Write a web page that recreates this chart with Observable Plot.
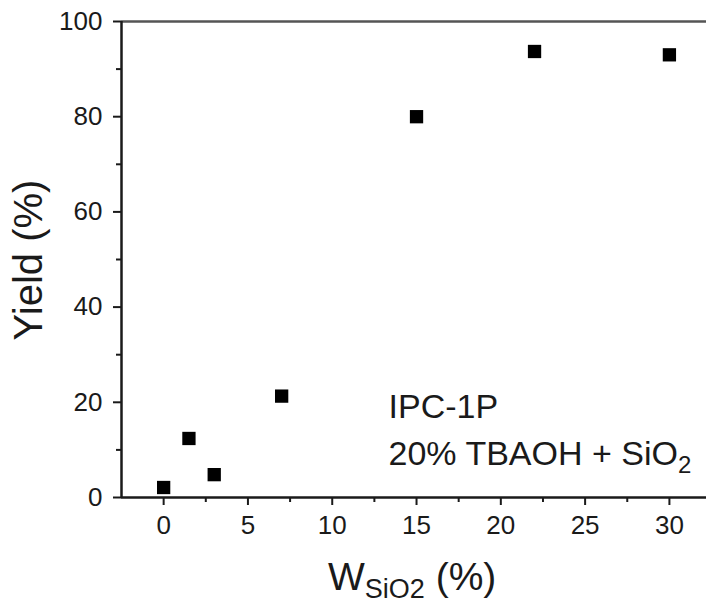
<!DOCTYPE html>
<html>
<head>
<meta charset="utf-8">
<script src="https://cdn.jsdelivr.net/npm/d3@7"></script>
<script src="https://cdn.jsdelivr.net/npm/@observablehq/plot@0.6"></script>
<style>
  html, body { margin: 0; padding: 0; background: #fff; }
  svg { display: block; }
</style>
</head>
<body>
<div id="chart"></div>
<script>
// Data
const wSiO2 = [0, 1.5, 3, 7, 15, 22, 30];
const yieldPct = [2.1, 12.4, 4.8, 21.3, 80.0, 93.7, 93.0];

const xMajorTicks = [0, 5, 10, 15, 20, 25, 30];
const xMinorTicks = [2.5, 7.5, 12.5, 17.5, 22.5, 27.5];
const yMajorTicks = [0, 20, 40, 60, 80, 100];
const yMinorTicks = [10, 30, 50, 70, 90];

const annoLines = ["IPC-1P", "20% TBAOH + SiO"];
const annoX = [13.34, 13.34];
const annoY = [18.9, 9.2];

const points = wSiO2.map((x, i) => ({x, y: yieldPct[i]}));
const anno = annoLines.map((t, i) => ({t, x: annoX[i], y: annoY[i]}));

const FONT = "'Liberation Sans', Arial, Helvetica, sans-serif";
const INK = "#1a1a1a";

const plot = Plot.plot({
  width: 707,
  height: 604,
  marginLeft: 121,
  marginRight: 1,
  marginTop: 21,
  marginBottom: 107,
  style: {fontFamily: FONT, background: "#fff", color: INK, overflow: "visible"},
  x: {domain: [-2.5, 32.2]},
  y: {domain: [0, 100]},
  marks: [
    Plot.axisX(xMajorTicks, {tickSize: 8, tickPadding: 10, fontSize: 26, strokeWidth: 2, label: null, fill: INK}),
    Plot.axisX(xMinorTicks, {tickSize: 5, strokeWidth: 2, tickFormat: () => "", label: null}),
    Plot.axisY(yMajorTicks, {tickSize: 8, tickPadding: 11, fontSize: 26, strokeWidth: 2, label: null, fill: INK}),
    Plot.axisY(yMinorTicks, {tickSize: 5, strokeWidth: 2, tickFormat: () => "", label: null}),
    Plot.ruleY([100], {stroke: "#555", strokeWidth: 2.5}),
    Plot.ruleX([-2.5], {stroke: INK, strokeWidth: 2.5}),
    Plot.ruleY([0], {stroke: INK, strokeWidth: 2.5}),
    Plot.dot(points, {x: "x", y: "y", symbol: "square", r: 7.5, fill: "#000", stroke: null}),
    Plot.text(anno, {x: "x", y: "y", text: "t", textAnchor: "start", lineAnchor: "middle", fontSize: 34, fill: INK, className: "anno"})
  ]
});

document.getElementById("chart").appendChild(plot);

const svg = d3.select(plot);

// Subscript "2" in SiO2 of the annotation
svg.selectAll("g.anno text").each(function() {
  const el = d3.select(this);
  if (el.text() === "20% TBAOH + SiO") {
    el.append("tspan").attr("dy", 8).attr("font-size", 24).text("2");
  }
});

// Y-axis label
svg.append("text")
  .attr("transform", "translate(42,260) rotate(-90)")
  .attr("text-anchor", "middle")
  .attr("font-family", FONT)
  .attr("font-size", 40)
  .attr("fill", INK)
  .text("Yield (%)");

// X-axis label with subscript
const xl = svg.append("text")
  .attr("x", 328)
  .attr("y", 590)
  .attr("text-anchor", "start")
  .attr("font-family", FONT)
  .attr("font-size", 39)
  .attr("fill", INK);
xl.append("tspan").text("W");
xl.append("tspan").attr("font-size", 27).attr("dy", 8).text("SiO2");
xl.append("tspan").attr("dy", -8).text(" (%)");
</script>
</body>
</html>
